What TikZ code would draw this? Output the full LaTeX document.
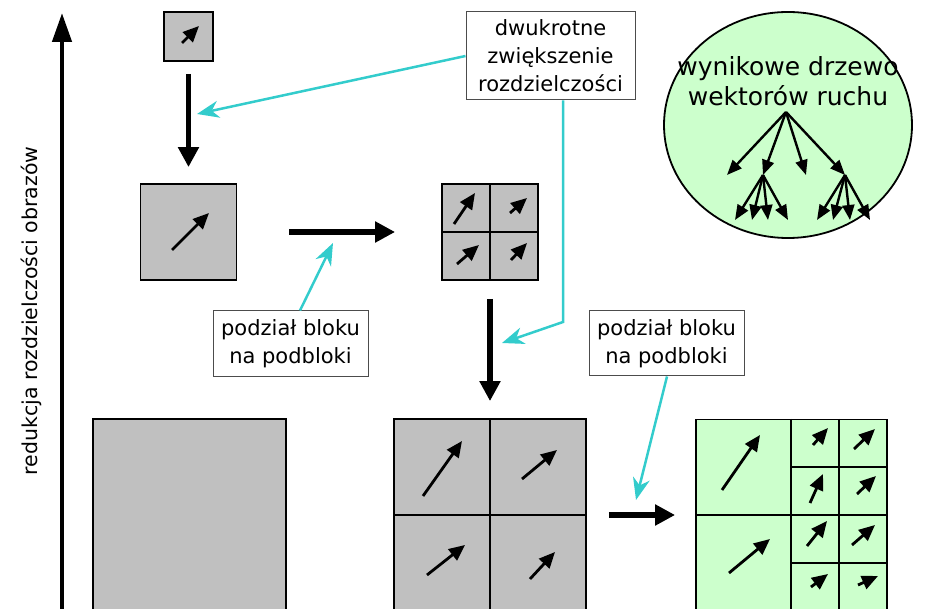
\documentclass[tikz,border=0pt]{standalone}
\usepackage{fontspec}
\setmainfont{DejaVu Sans}
\usetikzlibrary{arrows.meta,shapes.geometric}
\definecolor{blockgray}{HTML}{C0C0C0}
\definecolor{treegreen}{HTML}{CCFFCC}
\definecolor{linkcyan}{HTML}{33CCCC}
\begin{document}
\begin{tikzpicture}[x=1pt,y=-1pt,
  blk/.style={draw=black, line width=1.8pt, fill=blockgray, inner sep=0pt},
  grn/.style={draw=black, line width=1.8pt, fill=treegreen, inner sep=0pt},
  gridln/.style={line width=1.8pt},
  vec/.style={line width=2.8pt, -{Triangle[length=16pt,width=14pt]}},
  bigarrow/.style={line width=5.5pt, -{Triangle[length=20pt,width=20pt]}},
  callout/.style={draw=linkcyan, line width=2.5pt, -{Stealth[length=22pt,width=17pt,inset=7pt]}},
  note/.style={draw=black!70, line width=1pt, fill=white, align=center,
    font=\fontsize{21}{28}\selectfont, inner sep=0pt},
  treearrow/.style={line width=2.4pt, -{Triangle[length=15pt,width=12pt]}},
]
\clip (0,0) rectangle (927,609);

% resolution axis
\coordinate (axbot) at (62,620);
\coordinate (axtop) at (62,13);
\draw[line width=4.5pt, -{Triangle[length=29pt,width=19pt]}] (axbot) -- (axtop);
\node[rotate=90, font=\fontsize{20.5}{25}\selectfont] (axlabel) at (31,311)
  {redukcja rozdzielczości obrazów};

% level 3: one tiny block
\node[blk, minimum size=49pt] (s1) at (188.5,36.5) {};
\draw[vec] (182,43) -- (199,26);

% level 2: single block and its split into four
\node[blk, minimum size=96pt] (s2) at (188.5,232) {};
\draw[vec] (172,250) -- (209,213);

\node[blk, minimum size=96pt] (g2) at (490,232) {};
\draw[gridln] (490,184) -- (490,280);
\draw[gridln] (442,232) -- (538,232);
\draw[vec] (454,224) -- (475,193);
\draw[vec] (510,213) -- (527,198);
\draw[vec] (457,264) -- (479,245);
\draw[vec] (511,260) -- (527,243);

% level 1: full-resolution blocks
\node[blk, minimum size=193pt] (s3) at (189.5,515.5) {};

\node[blk, minimum size=192pt] (g4) at (490,515) {};
\draw[gridln] (490,419) -- (490,611);
\draw[gridln] (394,515) -- (586,515);
\draw[vec] (423,496) -- (462,441);
\draw[vec] (522,479) -- (557,450);
\draw[vec] (427,575) -- (465,545);
\draw[vec] (530,579) -- (555,552);

\node[grn, minimum size=191pt] (g5) at (791.5,515) {};
\draw[gridln] (791,419) -- (791,611);
\draw[gridln] (839,419) -- (839,611);
\draw[gridln] (696,515) -- (887,515);
\draw[gridln] (791,467) -- (887,467);
\draw[gridln] (791,563) -- (887,563);
\draw[vec] (722,490) -- (760,435);
\draw[vec] (729,573) -- (770,539);
\draw[vec] (813,445) -- (828,428);
\draw[vec] (854,449) -- (875,429);
\draw[vec] (810,503) -- (823,474);
\draw[vec] (857,494) -- (876,476);
\draw[vec] (807,546) -- (827,521);
\draw[vec] (852,545) -- (875,525);
\draw[vec] (811,587) -- (828,574);
\draw[vec] (858,585) -- (878,576);

% processing steps
\draw[bigarrow, shorten <=12pt, shorten >=16pt] (s1.south) -- (s2.north);
\draw[bigarrow, shorten <=52pt, shorten >=46pt] (s2.east) -- (g2.west);
\draw[bigarrow, shorten <=18pt, shorten >=17pt] (g2.south) -- (g4.north);
\draw[bigarrow, shorten <=22pt, shorten >=20pt] (g4.east) -- (g5.west);

% explanatory notes
\node[note, minimum width=169pt, minimum height=88pt] (b1) at (550.5,56)
  {dwukrotne\\zwiększenie\\rozdzielczości};
\node[note, minimum width=155pt, minimum height=66pt] (b2) at (290.5,344)
  {podział bloku\\na podbloki};
\node[note, minimum width=155pt, minimum height=65pt] (b3) at (666.5,343.5)
  {podział bloku\\na podbloki};

\coordinate (c1tip) at (197,114);
\coordinate (c2bend) at (563,322);
\coordinate (c2tip) at (502,343);
\coordinate (c3tip) at (333,243);
\coordinate (c4tip) at (636,500);
\draw[callout] (b1.west) -- (c1tip);
\draw[callout] ([xshift=12.5pt]b1.south) -- (c2bend) -- (c2tip);
\draw[callout] ([xshift=9.5pt]b2.north) -- (c3tip);
\draw[callout] ([xshift=0.5pt]b3.south) -- (c4tip);

% resulting motion-vector tree
\node[ellipse, draw=black, line width=1.8pt, fill=treegreen,
  minimum width=248pt, minimum height=226pt, inner sep=0pt] (tree) at (788,125) {};
\node[align=center, font=\fontsize{25}{30}\selectfont] (treetxt) at (788,81)
  {wynikowe drzewo\\wektorów ruchu};
\coordinate (r0) at (786,112);
\coordinate (ta) at (727,175);
\coordinate (tb) at (763,175);
\coordinate (tc) at (806,175);
\coordinate (td) at (845,175);
\draw[treearrow] (r0) -- (ta);
\draw[treearrow] (r0) -- (tb);
\draw[treearrow] (r0) -- (tc);
\draw[treearrow] (r0) -- (td);
\foreach \p/\q in {763/735, 763/752, 763/768, 763/788, 845/817, 845/833, 845/850, 845/870}{
  \coordinate (lf) at (\q,220);
  \coordinate (lr) at (\p,175);
  \draw[treearrow] (lr) -- (lf);
}
\end{tikzpicture}
\end{document}
